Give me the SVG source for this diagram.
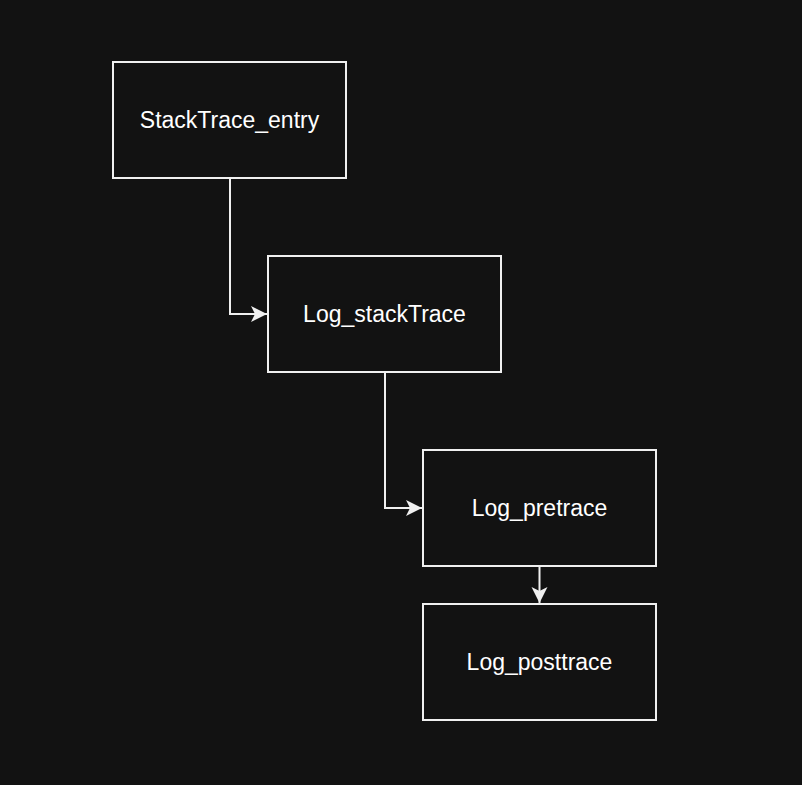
<svg xmlns="http://www.w3.org/2000/svg" width="802" height="785" viewBox="0 0 802 785">
<style>
.box{fill:#121212;stroke:#f0f0f0;stroke-width:2}
.lbl{fill:#ffffff;font-family:"Liberation Sans",Arial,sans-serif;font-size:23px;text-anchor:middle;dominant-baseline:central}
.edge{fill:none;stroke:#f0f0f0;stroke-width:2}
</style>
<defs>
<marker id="arr" viewBox="0 0 18 18" refX="17" refY="9" markerWidth="18" markerHeight="18" markerUnits="userSpaceOnUse" orient="auto">
<path d="M1,1 L17,9 L1,17 L5,9 Z" fill="#f0f0f0"/>
</marker>
</defs>
<rect width="802" height="785" fill="#121212"/>
<g id="connectors">
<path class="edge" d="M230,178 V314 H267" marker-end="url(#arr)"/>
<path class="edge" d="M385,372 V508 H422" marker-end="url(#arr)"/>
<path class="edge" d="M539.5,566 V603" marker-end="url(#arr)"/>
</g>
<g id="stacktrace_entry">
<rect class="box" x="113" y="62" width="233" height="116"/>
<text class="lbl" x="229.5" y="120">StackTrace_entry</text>
</g>
<g id="log_stacktrace">
<rect class="box" x="268" y="256" width="233" height="116"/>
<text class="lbl" x="384.5" y="314">Log_stackTrace</text>
</g>
<g id="log_pretrace">
<rect class="box" x="423" y="450" width="233" height="116"/>
<text class="lbl" x="539.5" y="508">Log_pretrace</text>
</g>
<g id="log_posttrace">
<rect class="box" x="423" y="604" width="233" height="116"/>
<text class="lbl" x="539.5" y="662">Log_posttrace</text>
</g>
</svg>
